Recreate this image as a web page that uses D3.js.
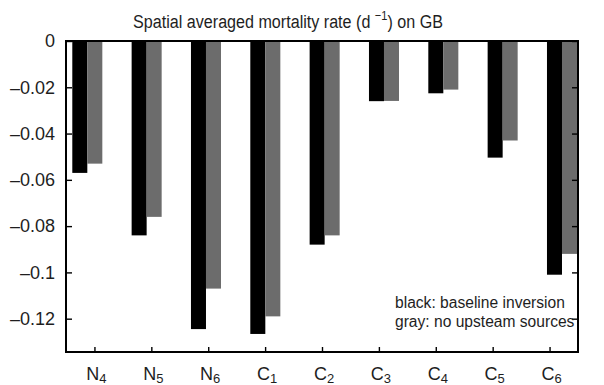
<!DOCTYPE html>
<html>
<head>
<meta charset="utf-8">
<script src="https://cdn.jsdelivr.net/npm/d3@7"></script>
<style>
  html, body { margin: 0; padding: 0; background: #fff; }
  svg { display: block; font-family: "Liberation Sans", Arial, Helvetica, sans-serif; }
</style>
</head>
<body>
<svg id="chart" width="604" height="385"></svg>
<script>
// Stage / category names with subscripts
const categories = ["N4", "N5", "N6", "C1", "C2", "C3", "C4", "C5", "C6"];
const catLetter = ["N", "N", "N", "C", "C", "C", "C", "C", "C"];
const catSub = ["4", "5", "6", "1", "2", "3", "4", "5", "6"];

// Spatially averaged mortality rate (d^-1)
const baseline = [-0.057, -0.084, -0.1245, -0.1266, -0.088, -0.026, -0.0226, -0.0504, -0.101];
const noUpstream = [-0.053, -0.076, -0.107, -0.119, -0.084, -0.0259, -0.021, -0.043, -0.092];

const yTicks = [0, -0.02, -0.04, -0.06, -0.08, -0.1, -0.12];
const yTickLabels = ["0", "\u20130.02", "\u20130.04", "\u20130.06", "\u20130.08", "\u20130.1", "\u20130.12"];

const legendLines = ["black: baseline inversion", "gray: no upsteam sources"];

const svg = d3.select("#chart");
const plot = { left: 66, right: 578, top: 41, bottom: 352 };
const textColor = "#1e1e1e";

const y = d3.scaleLinear().domain([-0.1344, 0]).range([plot.bottom, plot.top]);

// Tick positions along the x axis
const xTick = d3.scalePoint().domain(categories).range([plot.left, plot.right]).padding(0.5);

// Bar groups (black + gray pair)
const xBar = d3.scaleBand().domain(categories).range([72.3, 577]).paddingInner(0.494).paddingOuter(0);
const xSub = d3.scaleBand().domain(["baseline", "noUpstream"]).range([0, xBar.bandwidth()]);

const series = [
  { key: "baseline", values: baseline, color: "#000000" },
  { key: "noUpstream", values: noUpstream, color: "#6c6c6c" }
];

const g = svg.append("g");

series.forEach(s => {
  g.selectAll(null)
    .data(categories.map((c, i) => ({ c, v: s.values[i] })))
    .enter().append("rect")
    .attr("x", d => xBar(d.c) + xSub(s.key))
    .attr("width", xSub.bandwidth())
    .attr("y", y(0))
    .attr("height", d => y(d.v) - y(0))
    .attr("fill", s.color);
});

// Y axis (left): inward ticks
const yAxisL = d3.axisLeft(y).tickValues(yTicks).tickSize(-6).tickSizeOuter(0).tickPadding(11)
  .tickFormat((d, i) => yTickLabels[i]);
const gyl = svg.append("g").attr("transform", `translate(${plot.left},0)`).call(yAxisL);
gyl.selectAll(".tick text").attr("font-size", 18).attr("fill", textColor)
  .attr("font-family", "'Liberation Sans', Arial, sans-serif");

// Y axis (right): inward ticks, no labels
const yAxisR = d3.axisRight(y).tickValues(yTicks).tickSize(-6).tickSizeOuter(0).tickFormat("");
const gyr = svg.append("g").attr("transform", `translate(${plot.right},0)`).call(yAxisR);

// X axis (bottom): inward ticks
const xAxis = d3.axisBottom(xTick).tickSize(-5).tickSizeOuter(0).tickFormat("");
const gx = svg.append("g").attr("transform", `translate(0,${plot.bottom})`).call(xAxis);

[gyl, gyr, gx].forEach(a => {
  a.select(".domain").remove();
  a.selectAll(".tick line").attr("stroke", "#000").attr("stroke-width", 1.4);
});

// Plot frame as four solid edges
const lw = 2;
const edges = [
  { x: plot.left - lw / 2, y: plot.top - lw / 2, w: plot.right - plot.left + lw, h: lw },
  { x: plot.left - lw / 2, y: plot.bottom - lw / 2, w: plot.right - plot.left + lw, h: lw },
  { x: plot.left - lw / 2, y: plot.top - lw / 2, w: lw, h: plot.bottom - plot.top + lw },
  { x: plot.right - lw / 2, y: plot.top - lw / 2, w: lw, h: plot.bottom - plot.top + lw }
];
svg.append("g").selectAll("rect").data(edges).enter().append("rect")
  .attr("x", d => d.x).attr("y", d => d.y)
  .attr("width", d => d.w).attr("height", d => d.h)
  .attr("fill", "#000");

const xl = svg.append("g").selectAll("text")
  .data(categories).enter().append("text")
  .attr("x", d => xTick(d) + 2)
  .attr("y", 380)
  .attr("text-anchor", "middle")
  .attr("font-size", 18)
  .attr("fill", textColor);
xl.append("tspan").text((d, i) => catLetter[i]);
xl.append("tspan").attr("font-size", 13).attr("dy", 3).text((d, i) => catSub[i]);

// Title with superscript, fitted to a 310px span
const titleG = svg.append("g");
const title = titleG.append("text")
  .attr("x", 0).attr("y", 0)
  .attr("text-anchor", "middle")
  .attr("font-size", 19)
  .attr("fill", textColor);
title.append("tspan").text("Spatial averaged mortality rate (d ");
title.append("tspan").attr("font-size", 13).attr("dy", -8).text("\u22121");
title.append("tspan").attr("dy", 8).text(") on GB");
const tw = title.node().getBBox().width;
titleG.attr("transform", `translate(288,27.5) scale(${310 / tw},1)`);

// Legend text
svg.append("g").selectAll("text")
  .data(legendLines).enter().append("text")
  .attr("x", 395)
  .attr("y", (d, i) => 308 + i * 19)
  .attr("font-size", 15.6)
  .attr("fill", textColor)
  .text(d => d);
</script>
</body>
</html>
